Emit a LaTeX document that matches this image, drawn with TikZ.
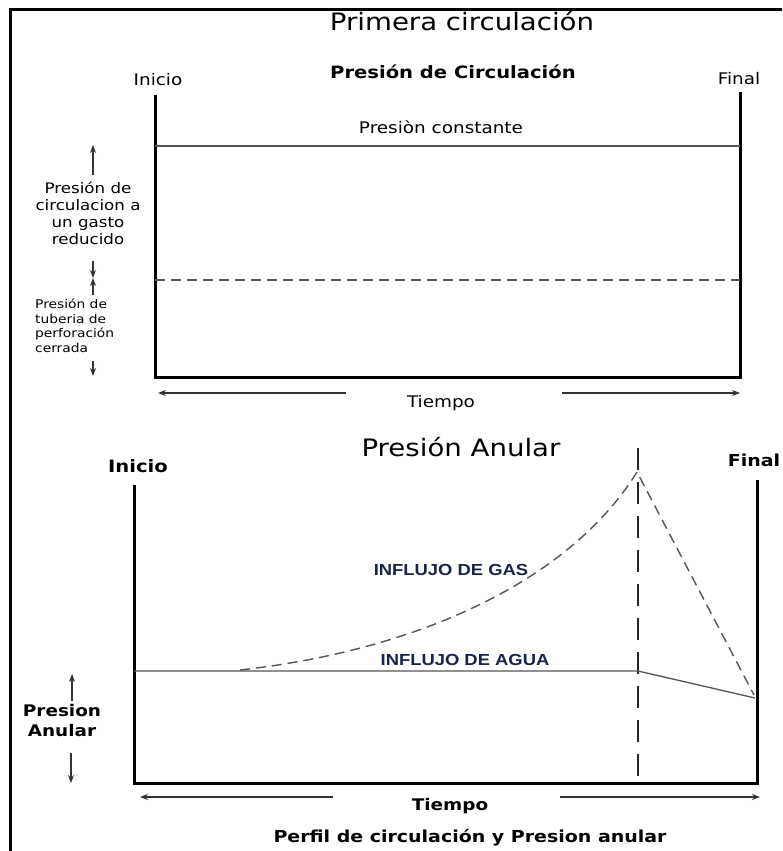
\documentclass[tikz,border=0pt]{standalone}
\usepackage{fontspec}
\setmainfont{DejaVu Sans}[FakeStretch=1.15]
\newfontfamily\arialfont{Liberation Sans}[FakeStretch=1.15]
\usetikzlibrary{arrows.meta}
\definecolor{inkblue}{RGB}{25,35,75}
\definecolor{linegray}{RGB}{85,85,85}

\begin{document}
\begin{tikzpicture}[x=1pt,y=-1pt,>={Stealth[length=8pt,width=6pt]},
  axis line/.style={line width=3pt,line join=miter},
  thin line/.style={line width=1.3pt,linegray},
  dash line/.style={line width=1.4pt,linegray,dash pattern=on 10pt off 6pt},
  long dash/.style={line width=1.6pt,black!85,dash pattern=on 22pt off 12pt},
  small arrow/.style={->,line width=1.2pt,black!80},
  label/.style={inner sep=0pt,align=center}]

  \useasboundingbox (0,0) rectangle (782,851);
  % outer frame (only left and top are visible)
  \draw[axis line] (10,851) -- (10,10) -- (782,10);

  % titles
  \node[label,font=\fontsize{24}{28}\selectfont] (title) at (462,21) {Primera circulación};
  \node[label,font=\fontsize{17}{20}\selectfont\bfseries] (circ) at (453,72) {Presión de Circulación};

  % upper chart
  \coordinate (ul) at (155,95);
  \coordinate (ur) at (740,92);
  \coordinate (ubl) at (155,377);
  \coordinate (ubr) at (740,377);
  \draw[axis line] (ul) -- (ubl) -- (ubr) -- (ur);
  \node[label,font=\fontsize{16}{19}\selectfont] (inicio1) at (158,80) {Inicio};
  \node[label,font=\fontsize{16}{19}\selectfont] (final1) at (739,79) {Final};

  \coordinate (c1) at (155,146);
  \coordinate (c2) at (740,146);
  \draw[thin line] (c1) -- (c2);
  \node[label,font=\fontsize{16}{19}\selectfont] (const) at (441,127) {Presiòn constante};
  \coordinate (d1) at (155,280);
  \coordinate (d2) at (740,280);
  \draw[dash line] (d1) -- (d2);

  % left notes, upper chart
  \coordinate (a1) at (93,175);
  \coordinate (a2) at (93,145);
  \draw[small arrow] (a1) -- (a2);
  \node[label,font=\fontsize{14.5}{17}\selectfont] (gasto) at (88,213)
    {Presión de\\circulacion a\\un gasto\\reducido};
  \coordinate (a3) at (93,261);
  \coordinate (a4) at (93,278);
  \coordinate (a5) at (93,295);
  \draw[small arrow] (a3) -- (a4);
  \draw[small arrow] (a5) -- (a4);
  \node[label,align=left,anchor=west,font=\fontsize{12}{14.5}\selectfont] (tuberia) at (35,326)
    {Presión de\\tuberia de\\perforación\\cerrada};
  \coordinate (a6) at (93,361);
  \coordinate (a7) at (93,376);
  \draw[small arrow] (a6) -- (a7);

  % time axis, upper chart
  \node[label,font=\fontsize{16}{19}\selectfont] (tiempo1) at (441,403) {Tiempo};
  \coordinate (t1) at (346,393);
  \coordinate (t2) at (158,393);
  \coordinate (t3) at (562,393);
  \coordinate (t4) at (740,393);
  \draw[small arrow] (t1) -- (t2);
  \draw[small arrow] (t3) -- (t4);

  % lower chart
  \node[label,font=\fontsize{24}{28}\selectfont] (anular) at (461,447) {Presión Anular};
  \node[label,font=\fontsize{17}{20}\selectfont\bfseries] (inicio2) at (138,466) {Inicio};
  \node[label,font=\fontsize{16.5}{20}\selectfont\bfseries] (final2) at (754,460) {Final};
  \coordinate (ll) at (134,485);
  \coordinate (lr) at (757,480);
  \coordinate (lbl) at (134,783);
  \coordinate (lbr) at (757,783);
  \draw[axis line] (ll) -- (lbl) -- (lbr) -- (lr);

  \coordinate (v1) at (638,448);
  \coordinate (v2) at (638,783);
  \draw[long dash] (v1) -- (v2);

  % water and gas influx
  \coordinate (w0) at (134,671);
  \coordinate (w1) at (638,671);
  \coordinate (w2) at (755,698);
  \draw[thin line] (w0) -- (w1) -- (w2);
  \coordinate (g0) at (240,670);
  \coordinate (g1) at (637,472);
  \coordinate (g2) at (754,695);
  \draw[dash line] (g0) .. controls (420,650) and (570,580) .. (g1) -- (g2);
  \node[label,text=inkblue,font=\arialfont\fontsize{16}{19}\selectfont\bfseries] (gas) at (451,570) {INFLUJO DE GAS};
  \node[label,text=inkblue,font=\arialfont\fontsize{16}{19}\selectfont\bfseries] (agua) at (465,660) {INFLUJO DE AGUA};

  % left notes, lower chart
  \coordinate (b1) at (72,701);
  \coordinate (b2) at (72,674);
  \draw[small arrow] (b1) -- (b2);
  \node[label,font=\fontsize{16}{20}\selectfont\bfseries] (presan) at (62,721) {Presion\\Anular};
  \coordinate (b3) at (71,753);
  \coordinate (b4) at (71,783);
  \draw[small arrow] (b3) -- (b4);

  % time axis, lower chart
  \coordinate (s1) at (333,797);
  \coordinate (s2) at (140,797);
  \coordinate (s3) at (560,797);
  \coordinate (s4) at (760,797);
  \draw[small arrow] (s1) -- (s2);
  \draw[small arrow] (s3) -- (s4);
  \node[label,font=\fontsize{16}{19}\selectfont\bfseries] (tiempo2) at (450,806) {Tiempo};
  \node[label,font=\fontsize{16.5}{20}\selectfont\bfseries] (perfil) at (470,838) {Perfil de circulación y Presion anular};
\end{tikzpicture}
\end{document}
